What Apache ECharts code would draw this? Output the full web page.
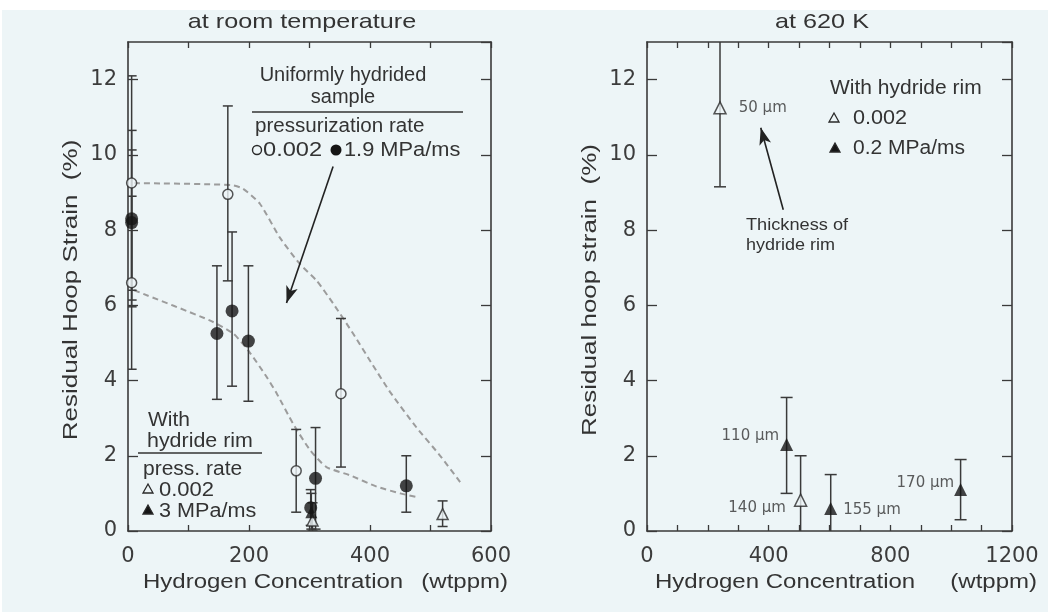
<!DOCTYPE html>
<html><head><meta charset="utf-8">
<script src="https://cdn.jsdelivr.net/npm/echarts@6/dist/echarts.min.js"></script>
<style>html,body{margin:0;padding:0;background:#fff}#c{width:1048px;height:612px}</style>
</head><body><div id="c"></div>
<script>
// ================= DATA =================
// ---- Left panel: at room temperature ----
const rtXTicks = [0, 200, 400, 600];
const rtYTicks = [0, 2, 4, 6, 8, 10, 12];

// Uniformly hydrided sample, 0.002 MPa/ms (open circles)
const uhSlowX  = [6, 6, 165, 278, 352];
const uhSlowY  = [9.25, 6.6, 8.95, 1.6, 3.65];
const uhSlowLo = [6.4, 4.3, 6.65, 0.5, 1.7];
const uhSlowHi = [12.1, 8.9, 11.3, 2.7, 5.65];

// Uniformly hydrided sample, 1.9 MPa/ms (filled circles)
const uhFastX  = [6, 6, 147, 172, 199, 302, 310, 460];
const uhFastY  = [8.3, 8.2, 5.25, 5.85, 5.05, 0.62, 1.4, 1.2];
const uhFastLo = [6.14, 5.96, 3.5, 3.85, 3.45, 0.15, 0.05, 0.5];
const uhFastHi = [10.65, 10.13, 7.05, 7.95, 7.05, 1.1, 2.75, 2.0];

// With hydride rim, 0.002 (open triangles)
const rimSlowX  = [305, 520];
const rimSlowY  = [0.28, 0.45];
const rimSlowLo = [0.0, 0.12];
const rimSlowHi = [0.75, 0.8];

// With hydride rim, 3 MPa/ms (filled triangles)
const rimFastX  = [303];
const rimFastY  = [0.5];
const rimFastLo = [0.05];
const rimFastHi = [1.0];

// Dashed guide curves
const upperCurveX = [10, 170, 190, 218, 251, 284, 312, 339, 372, 405, 433, 477, 516, 549];
const upperCurveY = [9.25, 9.2, 9.1, 8.7, 7.8, 7.1, 6.65, 6.05, 5.25, 4.4, 3.7, 2.75, 2.0, 1.3];
const lowerCurveX = [10, 135, 174, 201, 229, 246, 273, 301, 328, 367, 411, 450, 478];
const lowerCurveY = [6.4, 5.6, 5.25, 4.75, 4.1, 3.65, 2.85, 2.15, 1.7, 1.48, 1.18, 1.0, 0.9];

// Arrow (data units): from -> to
const rtArrowFrom = [339, 9.69];
const rtArrowTo   = [262, 6.06];

// ---- Right panel: at 620 K ----
const hotXTicks = [0, 400, 800, 1200];
const hotYTicks = [0, 2, 4, 6, 8, 10, 12];

// With hydride rim, 0.002 (open triangles)
const hotSlowX   = [240, 505];
const hotSlowY   = [11.25, 0.82];
const hotSlowLo  = [9.15, -0.4];
const hotSlowHi  = [13.4, 2.0];
const hotSlowLbl = ['50 µm', '140 µm'];

// With hydride rim, 0.2 MPa/ms (filled triangles)
const hotFastX   = [459, 604, 1031];
const hotFastY   = [2.3, 0.6, 1.1];
const hotFastLo  = [1.0, -0.3, 0.3];
const hotFastHi  = [3.55, 1.5, 1.9];
const hotFastLbl = ['110 µm', '155 µm', '170 µm'];

const hotArrowFrom = [448, 8.54];
const hotArrowTo   = [374, 10.72];

// ================= CHART =================
const BG = '#edf5f7';
const AX = '#3a3a3a';
const TICKF = 'DejaVu Sans';
const TXTF = '"Liberation Sans", Arial, sans-serif';

const chart = echarts.init(document.getElementById('c'), null, {renderer: 'canvas', width: 1048, height: 612});

function xAxes(gridIndex, max, step, ticks) {
  const base = {
    gridIndex, type: 'value', min: 0, max, interval: step,
    axisLine: {show: true, onZero: false, lineStyle: {color: AX, width: 1.6}},
    axisTick: {show: true, inside: true, length: 6, lineStyle: {color: AX, width: 1.3}},
    splitLine: {show: false}
  };
  return [
    Object.assign({}, base, {position: 'bottom', axisLabel: {show: true, margin: 15, color: '#3c3c3c', fontFamily: TICKF, fontSize: 21,
      formatter: v => (ticks.includes(v) ? String(v) : '')}}),
    Object.assign({}, base, {position: 'top', axisLabel: {show: false}})
  ];
}
function yAxes(gridIndex, ticks) {
  const base = {
    gridIndex, type: 'value', min: 0, max: 13, interval: 2,
    axisLine: {show: true, onZero: false, lineStyle: {color: AX, width: 1.6}},
    axisTick: {show: true, inside: true, length: 10, lineStyle: {color: AX, width: 1.3}},
    splitLine: {show: false}
  };
  return [
    Object.assign({}, base, {position: 'left', axisLabel: {show: true, margin: 11, color: '#3c3c3c', fontFamily: TICKF, fontSize: 21,
      showMaxLabel: false, formatter: v => (ticks.includes(v) ? String(v) : '')}}),
    Object.assign({}, base, {position: 'right', axisLabel: {show: false}})
  ];
}

function zip2(xs, ys) { return xs.map((x, i) => [x, ys[i]]); }
function zip3(xs, lo, hi) { return xs.map((x, i) => [x, lo[i], hi[i]]); }

function errSeries(xi, yi, xs, lo, hi, cap) {
  return {
    type: 'custom', xAxisIndex: xi, yAxisIndex: yi, clip: true, z: 3, silent: true,
    data: zip3(xs, lo, hi),
    encode: {x: 0, y: [1, 2]},
    renderItem: function (params, api) {
      const x = api.value(0), lo = api.value(1), hi = api.value(2);
      const a = api.coord([x, lo]), b = api.coord([x, hi]);
      const st = {stroke: AX, lineWidth: 1.5, fill: null};
      return {type: 'group', children: [
        {type: 'line', shape: {x1: a[0], y1: a[1], x2: b[0], y2: b[1]}, style: st},
        {type: 'line', shape: {x1: a[0] - cap, y1: a[1], x2: a[0] + cap, y2: a[1]}, style: st},
        {type: 'line', shape: {x1: b[0] - cap, y1: b[1], x2: b[0] + cap, y2: b[1]}, style: st}
      ]};
    }
  };
}

const openStyle = {color: BG, borderColor: '#2a2a2a', borderWidth: 1.5};
const fillStyle = {color: '#151515', borderColor: '#151515', borderWidth: 0};

function scatter(xi, yi, xs, ys, symbol, size, style, extra) {
  return Object.assign({
    type: 'scatter', xAxisIndex: xi, yAxisIndex: yi, symbol, symbolSize: size,
    itemStyle: style, z: 5, silent: true, data: zip2(xs, ys)
  }, extra || {});
}

function arrowLine(from, to) {
  return {
    silent: true, animation: false, symbol: ['none', 'arrow'], symbolSize: [9, 17],
    label: {show: false},
    lineStyle: {color: '#222', width: 1.6, type: 'solid'},
    data: [[{coord: from, symbol: 'none'}, {coord: to, symbol: 'arrow'}]]
  };
}

function dashed(xs, ys) {
  return {
    type: 'line', xAxisIndex: 0, yAxisIndex: 0, smooth: 0.2, showSymbol: false, silent: true, z: 2,
    lineStyle: {color: '#9c9c9c', width: 2, type: [6, 4]},
    data: zip2(xs, ys)
  };
}

// label placement for right-panel points (side, distance, offset)
const slowLblPlace = [['right', 12, [0, 0]], ['left', 8, [0, 8]]];
const fastLblPlace = [['left', 1, [0, -8]], ['right', 6, [0, 2]], ['left', 0, [0, -7]]];
function labeled(xs, ys, lbls, place) {
  return xs.map((x, i) => ({
    value: [x, ys[i]],
    label: {show: true, formatter: lbls[i], position: place[i][0], distance: place[i][1], offset: place[i][2],
      color: '#333', fontFamily: TICKF, fontSize: 15}
  }));
}

// graphic text helper
function txt(text, x, y, size, align, sx, rot) {
  return {type: 'text', x, y, scaleX: sx || 1, rotation: rot || 0, silent: true, z: 10,
    style: {text, fontFamily: TXTF, fontSize: size, fill: '#333', align: align || 'left', verticalAlign: 'middle'}};
}
function tri(cx, cy, s, filled) {
  return {type: 'polygon', silent: true, z: 10,
    shape: {points: [[cx, cy - s], [cx - s, cy + s * 0.8], [cx + s, cy + s * 0.8]]},
    style: {fill: filled ? '#151515' : BG, stroke: '#2a2a2a', lineWidth: 1.3}};
}

const option = {
  animation: false,
  backgroundColor: BG,
  grid: [
    {left: 128, top: 42, width: 363, height: 489},
    {left: 647, top: 42, width: 365, height: 489}
  ],
  xAxis: [].concat(xAxes(0, 600, 100, rtXTicks), xAxes(1, 1200, 100, hotXTicks)),
  yAxis: [].concat(yAxes(0, rtYTicks), yAxes(1, hotYTicks)),
  series: [
    dashed(upperCurveX, upperCurveY),
    dashed(lowerCurveX, lowerCurveY),
    errSeries(0, 0, uhSlowX, uhSlowLo, uhSlowHi, 5),
    errSeries(0, 0, uhFastX, uhFastLo, uhFastHi, 5),
    errSeries(0, 0, rimSlowX, rimSlowLo, rimSlowHi, 5),
    errSeries(0, 0, rimFastX, rimFastLo, rimFastHi, 5),
    scatter(0, 0, uhSlowX, uhSlowY, 'circle', 10, openStyle, {markLine: arrowLine(rtArrowFrom, rtArrowTo)}),
    scatter(0, 0, uhFastX, uhFastY, 'circle', 13, fillStyle),
    scatter(0, 0, rimSlowX, rimSlowY, 'triangle', 11, openStyle),
    scatter(0, 0, rimFastX, rimFastY, 'triangle', 12, fillStyle),
    errSeries(2, 2, hotSlowX, hotSlowLo, hotSlowHi, 6),
    errSeries(2, 2, hotFastX, hotFastLo, hotFastHi, 6),
    Object.assign(scatter(2, 2, [], [], 'triangle', 12, openStyle, {markLine: arrowLine(hotArrowFrom, hotArrowTo)}),
      {data: labeled(hotSlowX, hotSlowY, hotSlowLbl, slowLblPlace)}),
    Object.assign(scatter(2, 2, [], [], 'triangle', 13, fillStyle),
      {data: labeled(hotFastX, hotFastY, hotFastLbl, fastLblPlace)})
  ],
  graphic: [
    {type: 'rect', shape: {x: 0, y: 0, width: 1048, height: 10}, style: {fill: '#ffffff'}, silent: true, z: 0},
    {type: 'rect', shape: {x: 0, y: 0, width: 2, height: 612}, style: {fill: '#ffffff'}, silent: true, z: 0},
    // titles
    txt('at room temperature', 302, 22, 21, 'center', 1.2),
    txt('at 620 K', 822, 22, 21, 'center', 1.2),
    // axis names
    txt('Hydrogen Concentration', 143, 582, 20, 'left', 1.2),
    txt('(wtppm)', 508, 582, 20, 'right', 1.2),
    txt('Hydrogen Concentration', 655, 582, 20, 'left', 1.2),
    txt('(wtppm)', 1037, 582, 20, 'right', 1.2),
    txt('Residual Hoop Strain  (%)', 71, 290, 20, 'center', 1.3, Math.PI / 2),
    txt('Residual hoop strain  (%)', 590, 290, 20, 'center', 1.3, Math.PI / 2),
    // left upper legend
    txt('Uniformly hydrided', 343, 75, 20, 'center', 1.0),
    txt('sample', 343, 97, 20, 'center', 1.0),
    {type: 'line', shape: {x1: 252, y1: 112, x2: 463, y2: 112}, style: {stroke: '#333', lineWidth: 1.5}, silent: true, z: 10},
    txt('pressurization rate', 255, 126, 20, 'left', 1.03),
    {type: 'circle', shape: {cx: 257, cy: 150, r: 4.5}, style: {fill: BG, stroke: '#2a2a2a', lineWidth: 1.4}, silent: true, z: 10},
    txt('0.002', 263, 150, 20, 'left', 1.18),
    {type: 'circle', shape: {cx: 336, cy: 150, r: 5.5}, style: {fill: '#151515'}, silent: true, z: 10},
    txt('1.9 MPa/ms', 344, 150, 20, 'left', 1.09),
    // left lower legend
    txt('With', 148, 420, 20, 'left', 1.05),
    txt('hydride rim', 147, 441, 20, 'left', 1.07),
    {type: 'line', shape: {x1: 138, y1: 453, x2: 262, y2: 453}, style: {stroke: '#333', lineWidth: 1.5}, silent: true, z: 10},
    txt('press. rate', 143, 469, 20, 'left', 1.05),
    tri(148, 489, 5, false),
    txt('0.002', 159, 490, 20, 'left', 1.1),
    tri(148, 510, 5, true),
    txt('3 MPa/ms', 159, 511, 20, 'left', 1.08),
    // right legend
    txt('With hydride rim', 830, 88, 20, 'left', 1.05),
    tri(834, 118, 5, false),
    txt('0.002', 853, 118, 20, 'left', 1.08),
    tri(835, 148, 5, true),
    txt('0.2 MPa/ms', 853, 148, 20, 'left', 1.05),
    // right annotation
    txt('Thickness of', 746, 225, 17, 'left', 1.07),
    txt('hydride rim', 746, 245, 17, 'left', 1.06)
  ]
};
chart.setOption(option);
</script></body></html>
